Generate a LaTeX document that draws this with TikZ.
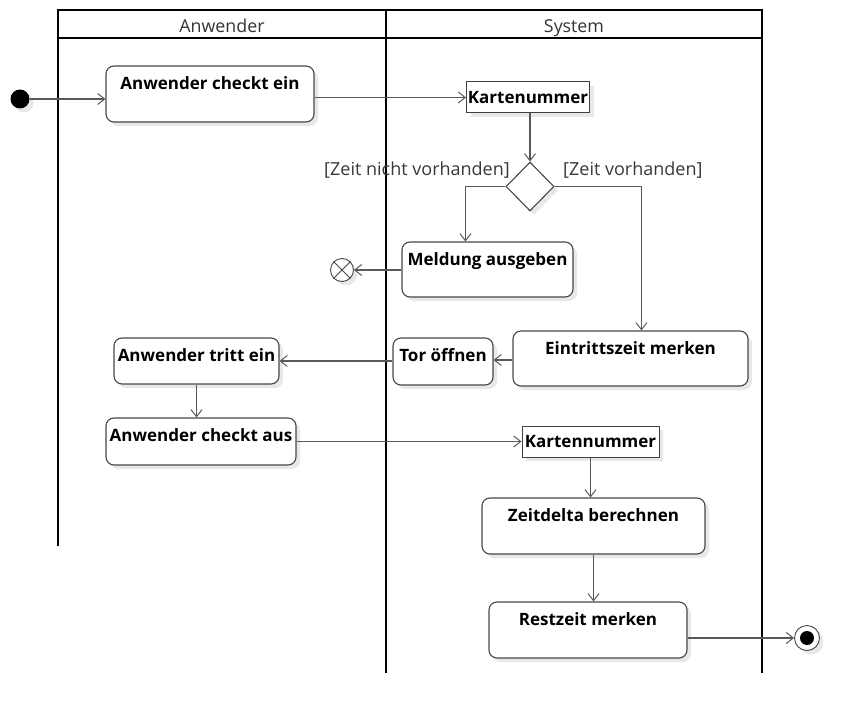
\documentclass[tikz,border=0pt]{standalone}
\usepackage{fontspec}
\setmainfont{Open Sans}
\usetikzlibrary{arrows.meta,shadows,shapes.geometric,calc}
\begin{document}
\begin{tikzpicture}[x=1pt,y=-1pt,
  lane/.style={line width=2pt,black},
  hdr/.style={font=\fontsize{17.8}{20}\selectfont, text=black!80, inner sep=0pt, anchor=base},
  shad/.style={drop shadow={shadow xshift=4pt,shadow yshift=-4pt,fill=black!9,opacity=1}},
  act/.style={draw=black!72, line width=1.1pt, rounded corners=8pt, fill=white, shad, inner sep=0pt},
  obj/.style={draw=black!75, line width=1pt, fill=white, shad, inner sep=0pt,
     font=\bfseries\fontsize{17}{20}\selectfont},
  acttxt/.style={font=\bfseries\fontsize{17}{20}\selectfont, anchor=base, inner sep=0pt, yshift=-24.5pt},
  flow/.style={draw=black!65, line width=1.1pt, -{Straight Barb[length=7pt,width=11pt,line width=1pt]}},
  guard/.style={font=\fontsize{18}{21}\selectfont, text=black!78, inner sep=0pt},
]
\useasboundingbox (0,0) rectangle (859,714);

% swimlanes
\draw[lane] (58,546) -- (58,10) -- (762,10) -- (762,673);
\draw[lane] (58,38) -- (762,38);
\draw[lane] (386,10) -- (386,673);
\node[hdr] (hA) at (222,32.5) {Anwender};
\node[hdr] (hS) at (574,32.5) {System};

% nodes
\node[circle, fill=black, minimum size=19, inner sep=0pt, shad] (init) at (20,99) {};
\node[act, minimum width=208, minimum height=56, label={[acttxt]north:Anwender checkt ein}] (ein) at (210,94) {};
\node[obj, minimum width=123, minimum height=31] (K1) at (528,97.5) {Kartenummer};
\node[diamond, aspect=1, draw=black!72, line width=1.1pt, fill=white, shad, minimum width=48, minimum height=49, inner sep=0pt] (dia) at (530,186.5) {};
\node[guard, anchor=east] (g1) at (510,170.5) {[Zeit nicht vorhanden]};
\node[guard, anchor=west] (g2) at (563,170.5) {[Zeit vorhanden]};
\node[act, minimum width=171, minimum height=55, label={[acttxt]north:Meldung ausgeben}] (mel) at (487.5,269.5) {};
\node[circle, draw=black!72, line width=0.9pt, fill=white, shad, minimum size=23, inner sep=0pt] (ff) at (342,270) {};
\draw[black!72, line width=0.9pt] (ff.north west) -- (ff.south east) (ff.north east) -- (ff.south west);
\node[act, minimum width=235, minimum height=55, label={[acttxt]north:Eintrittszeit merken}] (eint) at (630.5,358.5) {};
\node[act, minimum width=100, minimum height=47, label={[acttxt]north:Tor öffnen}] (tor) at (443,361.5) {};
\node[act, minimum width=165, minimum height=46, label={[acttxt]north:Anwender tritt ein}] (tritt) at (196.5,361) {};
\node[act, minimum width=190, minimum height=47, label={[acttxt]north:Anwender checkt aus}] (aus) at (201,441.5) {};
\node[obj, minimum width=137, minimum height=31] (K2) at (590.5,441.5) {Kartennummer};
\node[act, minimum width=223, minimum height=56, label={[acttxt]north:Zeitdelta berechnen}] (zeit) at (593.5,526) {};
\node[act, minimum width=198, minimum height=56, label={[acttxt]north:Restzeit merken}] (rest) at (588,630) {};
\node[circle, draw=black!72, line width=0.9pt, fill=white, shad, minimum size=25, inner sep=0pt] (fin) at (807,638) {};
\node[circle, fill=black, minimum size=14, inner sep=0pt] (finin) at (fin) {};

% connectors
\draw[flow] (init.east) -- (init.east -| ein.west);
\draw[flow] (ein.east |- K1.west) -- (K1.west);
\draw[flow] (K1.south -| dia.north) -- (dia.north);
\draw[flow] (dia.west) -| ([xshift=64pt]mel.north west);
\draw[flow] (dia.east) -| ([xshift=129pt]eint.north west);
\draw[flow] (mel.west |- ff.east) -- (ff.east);
\draw[flow] ([yshift=1.5pt]eint.west |- tor.east) -- ([yshift=1.5pt]tor.east);
\draw[flow] (tor.west |- tritt.east) -- (tritt.east);
\draw[flow] (tritt.south) -- (tritt.south |- aus.north);
\draw[flow] (aus.east) -- (K2.west);
\draw[flow] (K2.south) -- (K2.south |- zeit.north);
\draw[flow] (zeit.south) -- (zeit.south |- rest.north);
\draw[flow] (rest.east |- fin.west) -- (fin.west);
\end{tikzpicture}
\end{document}
